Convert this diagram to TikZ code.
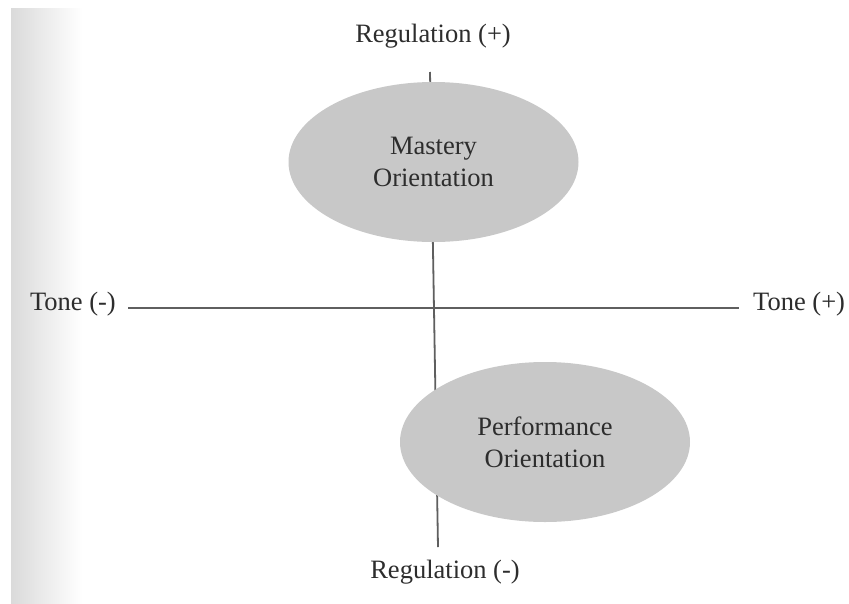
\documentclass[tikz,border=0pt]{standalone}
\usepackage{fontspec}
\setmainfont{Liberation Serif}
\usetikzlibrary{shapes.geometric}
\definecolor{txt}{RGB}{45,45,45}
\definecolor{axis}{RGB}{95,95,95}
\definecolor{blob}{RGB}{200,200,200}
\definecolor{strip}{RGB}{218,218,218}
\begin{document}
\begin{tikzpicture}[x=1pt,y=-1pt,
  label/.style={text=txt,font=\fontsize{26.5}{32}\selectfont,inner sep=0pt,align=center},
  orient/.style={ellipse,fill=blob,draw=none,minimum width=290pt,minimum height=160pt,
    text=txt,font=\fontsize{26.5}{32}\selectfont,align=center,inner sep=0pt},
  axisline/.style={draw=axis,line width=1.8pt}]
\useasboundingbox (0,0) rectangle (849,603);
\fill[white] (0,0) rectangle (849,603);
% soft shaded strip on the left margin
\shade[left color=strip,right color=white] (11,8) rectangle (82,603);
% axis labels
\node[label] (regp) at (433,36) {Regulation (+)};
\node[label] (regm) at (445,572) {Regulation (-)};
\node[label,anchor=east] (tonem) at (116,304) {Tone (-)};
\node[label,anchor=west] (tonep) at (753,304) {Tone (+)};
% axes
\coordinate (vtop) at (430,72);
\coordinate (vbot) at (438,547);
\draw[axisline] (vtop) -- (vbot);
\path (tonem.east) ++(12,4) coordinate (hl) (tonep.west) ++(-14,4) coordinate (hr);
\draw[axisline] (hl) -- (hr);
% orientations
\node[orient] (mastery) at (433.5,162) {Mastery\\Orientation};
\node[orient] (perf) at (545,442) {Performance\\Orientation};
\end{tikzpicture}
\end{document}
